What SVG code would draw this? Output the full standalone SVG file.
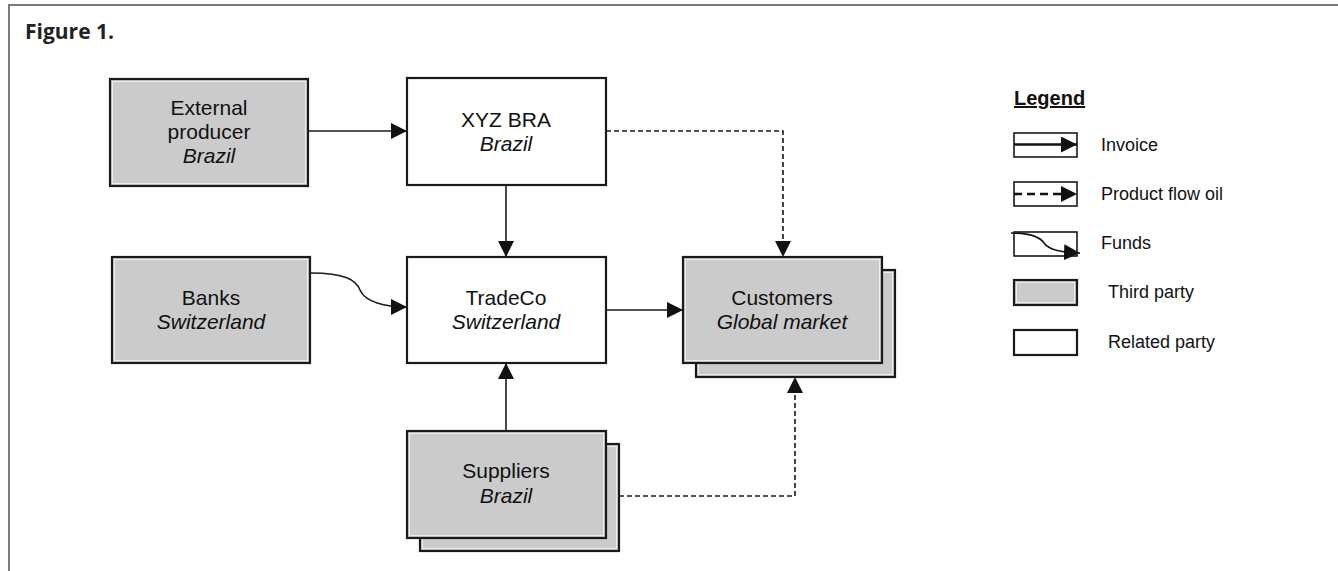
<svg xmlns="http://www.w3.org/2000/svg" width="1338" height="571" viewBox="0 0 1338 571">
<style>
.t{font-family:"Liberation Sans",Arial,sans-serif;font-size:21px;fill:#111;text-anchor:middle}
.i{font-style:italic}
.lg{font-family:"Liberation Sans",Arial,sans-serif;font-size:18px;fill:#111}
.third{fill:#cbcbcb;stroke:#1a1a1a;stroke-width:2.2}
.inner{fill:none;stroke:#ececec;stroke-width:1}
.rel{fill:#fff;stroke:#1a1a1a;stroke-width:2.2}
.c{fill:none;stroke:#1a1a1a;stroke-width:1.6}
.d{fill:none;stroke:#1a1a1a;stroke-width:1.6;stroke-dasharray:5 3}
</style>
<defs>
<marker id="ah" markerUnits="userSpaceOnUse" markerWidth="16" markerHeight="16" viewBox="0 0 14 14" refX="14" refY="7" orient="auto">
<path d="M0,0 L14,7 L0,14 Z" fill="#111"/>
</marker>
</defs>
<rect width="1338" height="571" fill="#fff"/>
<path d="M9,571 V5 H1338" fill="none" stroke="#7a7a7a" stroke-width="2"/>
<text x="25" y="39" font-family="'Open Sans',sans-serif" font-weight="bold" font-size="21" fill="#222">Figure 1.</text>

<g id="connectors">
<line class="c" x1="309" y1="131" x2="407" y2="131" marker-end="url(#ah)"/>
<line class="c" x1="506" y1="185" x2="506" y2="257" marker-end="url(#ah)"/>
<path class="d" d="M606,131 H783 V257" marker-end="url(#ah)"/>
<path class="c" d="M311,273 C345,273 356,280 360,290 C365,302 385,307 407,307" marker-end="url(#ah)"/>
<line class="c" x1="606" y1="310" x2="683" y2="310" marker-end="url(#ah)"/>
<line class="c" x1="506" y1="431" x2="506" y2="363" marker-end="url(#ah)"/>
<path class="d" d="M619,496 H795 V377" marker-end="url(#ah)"/>
</g>

<g id="external-producer">
<rect class="third" x="110" y="79" width="198" height="107"/>
<rect class="inner" x="112.5" y="81.5" width="193" height="102"/>
<text class="t" x="209" y="115">External</text>
<text class="t" x="209" y="139">producer</text>
<text class="t i" x="209" y="163">Brazil</text>
</g>

<g id="xyz-bra">
<rect class="rel" x="407" y="78" width="199" height="107"/>
<text class="t" x="506" y="127">XYZ BRA</text>
<text class="t i" x="506" y="151">Brazil</text>
</g>

<g id="banks">
<rect class="third" x="112" y="257" width="198" height="106"/>
<rect class="inner" x="114.5" y="259.5" width="193" height="101"/>
<text class="t" x="211" y="305">Banks</text>
<text class="t i" x="211" y="329">Switzerland</text>
</g>

<g id="tradeco">
<rect class="rel" x="407" y="257" width="199" height="106"/>
<text class="t" x="506" y="305">TradeCo</text>
<text class="t i" x="506" y="329">Switzerland</text>
</g>

<g id="customers">
<rect class="third" x="696" y="270" width="199" height="107"/>
<rect class="inner" x="698.5" y="272.5" width="194" height="102"/>
<rect class="third" x="683" y="257" width="199" height="106"/>
<rect class="inner" x="685.5" y="259.5" width="194" height="101"/>
<text class="t" x="782" y="305">Customers</text>
<text class="t i" x="782" y="329">Global market</text>
</g>

<g id="suppliers">
<rect class="third" x="420" y="444" width="199" height="107"/>
<rect class="inner" x="422.5" y="446.5" width="194" height="102"/>
<rect class="third" x="407" y="431" width="199" height="107"/>
<rect class="inner" x="409.5" y="433.5" width="194" height="102"/>
<text class="t" x="506" y="478">Suppliers</text>
<text class="t i" x="506" y="503">Brazil</text>
</g>

<g id="legend">
<text x="1014" y="105" font-family="'Liberation Sans',Arial,sans-serif" font-weight="bold" font-size="20" fill="#111" text-decoration="underline">Legend</text>
<rect x="1014" y="133" width="63" height="24" fill="#fff" stroke="#1a1a1a" stroke-width="1.6"/>
<line x1="1014" y1="144.5" x2="1077" y2="144.5" stroke="#111" stroke-width="2.4" marker-end="url(#ah)"/>
<text class="lg" x="1101" y="151">Invoice</text>
<rect x="1014" y="182" width="63" height="24" fill="#fff" stroke="#1a1a1a" stroke-width="1.6"/>
<line x1="1014" y1="194" x2="1077" y2="194" stroke="#111" stroke-width="2.6" stroke-dasharray="8 5" marker-end="url(#ah)"/>
<text class="lg" x="1101" y="200">Product flow oil</text>
<rect x="1014" y="232" width="63" height="24" fill="#fff" stroke="#1a1a1a" stroke-width="1.6"/>
<path d="M1011,233 C1030,233 1040,237 1044,243 C1049,250 1060,252 1080,253" fill="none" stroke="#111" stroke-width="1.6" marker-end="url(#ah)"/>
<text class="lg" x="1101" y="249">Funds</text>
<rect x="1014" y="280" width="63" height="25" fill="#cbcbcb" stroke="#1a1a1a" stroke-width="2.2"/>
<rect x="1016.5" y="282.5" width="58" height="20" fill="none" stroke="#ececec" stroke-width="1"/>
<text class="lg" x="1108" y="298">Third party</text>
<rect x="1014" y="330" width="63" height="25" fill="#fff" stroke="#1a1a1a" stroke-width="2.2"/>
<text class="lg" x="1108" y="348">Related party</text>
</g>
</svg>
